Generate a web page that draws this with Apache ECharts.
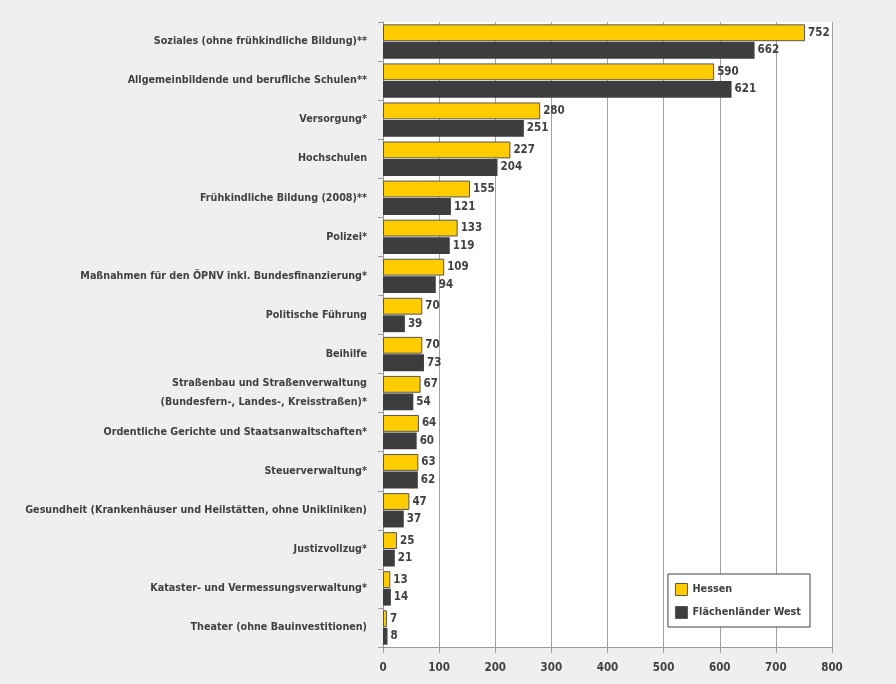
<!DOCTYPE html>
<html>
<head>
<meta charset="utf-8">
<script src="https://cdn.jsdelivr.net/npm/echarts@6/dist/echarts.min.js"></script>
<style>
html,body{margin:0;padding:0;background:#efefef;}
#chart{width:896px;height:684px;}
</style>
</head>
<body>
<div id="chart"></div>
<script>
// Ausgaben je Aufgabenbereich (Euro je Einwohner)
const categories = [
  'Soziales (ohne frühkindliche Bildung)**',
  'Allgemeinbildende und berufliche Schulen**',
  'Versorgung*',
  'Hochschulen',
  'Frühkindliche Bildung (2008)**',
  'Polizei*',
  'Maßnahmen für den ÖPNV inkl. Bundesfinanzierung*',
  'Politische Führung',
  'Beihilfe',
  'Straßenbau und Straßenverwaltung\n(Bundesfern-, Landes-, Kreisstraßen)*',
  'Ordentliche Gerichte und Staatsanwaltschaften*',
  'Steuerverwaltung*',
  'Gesundheit (Krankenhäuser und Heilstätten, ohne Unikliniken)',
  'Justizvollzug*',
  'Kataster- und Vermessungsverwaltung*',
  'Theater (ohne Bauinvestitionen)'
];
const hessen = [752, 590, 280, 227, 155, 133, 109, 70, 70, 67, 64, 63, 47, 25, 13, 7];
const flaechenlaenderWest = [662, 621, 251, 204, 121, 119, 94, 39, 73, 54, 60, 62, 37, 21, 14, 8];
const xTicks = [0, 100, 200, 300, 400, 500, 600, 700, 800];

const FONT = '"DejaVu Sans Condensed", "Liberation Sans Narrow", sans-serif';
const TEXT = '#404040';

const chart = echarts.init(document.getElementById('chart'), null, {renderer: 'canvas'});
chart.setOption({
  backgroundColor: '#efefef',
  animation: false,
  textStyle: {fontFamily: FONT},
  grid: {
    left: 383, right: 64, top: 22, bottom: 37,
    containLabel: false, outerBoundsMode: 'none',
    show: true, backgroundColor: '#ffffff', borderWidth: 0
  },
  legend: {
    orient: 'vertical',
    right: 86,
    bottom: 57,
    itemWidth: 12,
    itemHeight: 12,
    itemGap: 10,
    padding: [9, 9, 8, 7],
    borderColor: '#404040',
    borderWidth: 1,
    backgroundColor: '#ffffff',
    borderRadius: 0,
    textStyle: {fontFamily: FONT, fontSize: 10.8, fontWeight: 'bold', color: TEXT},
    data: [
      {name: 'Hessen', icon: 'rect', itemStyle: {borderColor: '#555555', borderWidth: 1}},
      {name: 'Flächenländer West', icon: 'rect', itemStyle: {borderColor: '#555555', borderWidth: 1}}
    ]
  },
  xAxis: {
    type: 'value',
    min: xTicks[0],
    max: xTicks[xTicks.length - 1],
    interval: 100,
    axisLine: {show: true, lineStyle: {color: '#9a9a9a', width: 1}},
    axisTick: {show: true, length: 6, lineStyle: {color: '#9a9a9a'}},
    axisLabel: {fontFamily: FONT, fontSize: 11.5, fontWeight: 'bold', color: TEXT, margin: 15},
    splitLine: {show: true, lineStyle: {color: '#a0a0a0', width: 1}}
  },
  yAxis: {
    type: 'category',
    data: categories,
    inverse: true,
    axisLine: {show: true, lineStyle: {color: '#9a9a9a', width: 1}},
    axisTick: {show: true, length: 5, lineStyle: {color: '#9a9a9a'}},
    axisLabel: {fontFamily: FONT, fontSize: 10.7, fontWeight: 'bold', color: TEXT, margin: 16, lineHeight: 19, align: 'right'}
  },
  series: [
    {
      name: 'Hessen',
      type: 'bar',
      data: hessen,
      barGap: '4%',
      barCategoryGap: '12%',
      itemStyle: {color: '#ffcc00', borderColor: '#555555', borderWidth: 1},
      label: {show: true, position: 'right', distance: 3, fontFamily: FONT, fontSize: 11.5, fontWeight: 'bold', color: TEXT}
    },
    {
      name: 'Flächenländer West',
      type: 'bar',
      data: flaechenlaenderWest,
      itemStyle: {color: '#3d3d3f'},
      label: {show: true, position: 'right', distance: 3, fontFamily: FONT, fontSize: 11.5, fontWeight: 'bold', color: TEXT}
    }
  ]
});
</script>
</body>
</html>
